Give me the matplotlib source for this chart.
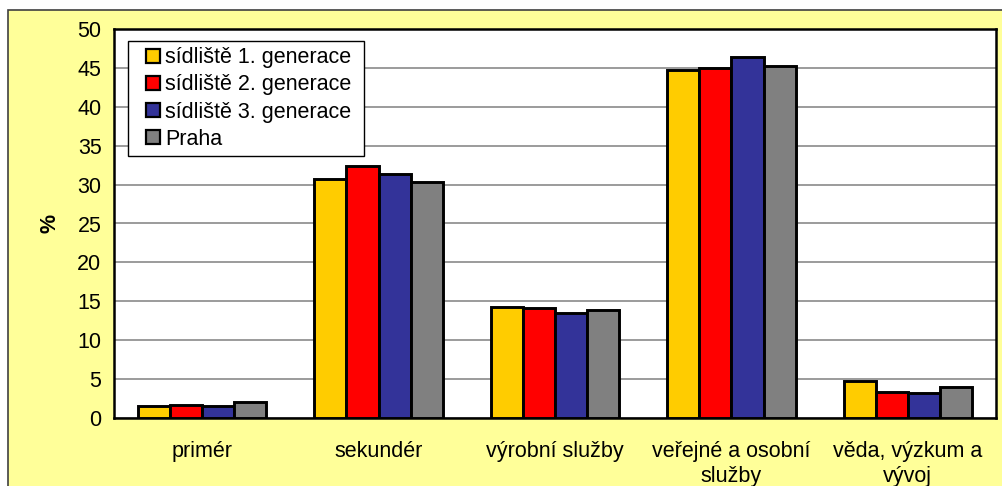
import matplotlib
matplotlib.use("Agg")
import matplotlib.pyplot as plt
import numpy as np
from matplotlib.patches import Rectangle, Patch
from matplotlib.legend_handler import HandlerPatch

plt.rcParams['font.family'] = ['Liberation Sans', 'DejaVu Sans']

categories = ["primér", "sekundér", "výrobní služby",
              "veřejné a osobní\nslužby", "věda, výzkum a\nvývoj"]
series_names = ["sídliště 1. generace", "sídliště 2. generace",
                "sídliště 3. generace", "Praha"]
gen1 = [1.5, 30.7, 14.3, 44.7, 4.8]
gen2 = [1.7, 32.4, 14.1, 45.0, 3.3]
gen3 = [1.5, 31.3, 13.5, 46.4, 3.2]
praha = [2.0, 30.3, 13.9, 45.3, 4.0]
yticks = [0, 5, 10, 15, 20, 25, 30, 35, 40, 45, 50]

colors = ["#FFCC00", "#FF0000", "#333399", "#808080"]
values = [gen1, gen2, gen3, praha]

FS = 15.5
W, H = 1003, 486
fig = plt.figure(figsize=(W / 100, H / 100), dpi=100, facecolor="white")

# chart area background
fig.patches.append(Rectangle((8 / W, -0.1), 1.2, (H - 10) / H + 0.1,
                             transform=fig.transFigure, facecolor="#FFFF99",
                             edgecolor="#404040", linewidth=1.2, zorder=-10))

ax = fig.add_axes([114 / W, (H - 418) / H, (996 - 114) / W, (418 - 29) / H])
ax.set_facecolor("white")
ax.set_zorder(1)

x = np.arange(len(categories))
bw = 0.182
for i, (vals, c) in enumerate(zip(values, colors)):
    ax.bar(x + (i - 1.5) * bw, vals, width=bw, color=c, edgecolor="black",
           linewidth=2.1, zorder=3, label=series_names[i])

ax.set_xlim(-0.5, len(categories) - 0.5)
ax.set_ylim(0, 50)
ax.set_yticks(yticks)
ax.set_yticklabels([str(v) for v in yticks], fontsize=FS)
ax.set_xticks(x)
ax.set_xticklabels(categories, fontsize=FS, linespacing=1.28)
ax.tick_params(axis="both", length=0)
ax.tick_params(axis="y", pad=9)
ax.tick_params(axis="x", pad=16.5)
ax.yaxis.grid(True, color="#808080", linewidth=1.1, zorder=0)
ax.set_axisbelow(True)
for s in ax.spines.values():
    s.set_color("black")
    s.set_linewidth(1.8)

ax.set_ylabel("%", fontsize=FS, fontweight="bold")
ax.yaxis.set_label_coords(-53 / (996 - 114), 0.5)


def square_key(legend, orig_handle, xdescent, ydescent, width, height, fontsize):
    # small square key sitting at the right end of the handle box
    s = height
    return Rectangle((-xdescent + width - s, -ydescent), s, s)


handles = [Patch(facecolor=c, edgecolor="black", linewidth=1.6) for c in colors]
leg = ax.legend(handles, series_names, loc="upper left",
                bbox_to_anchor=(14 / 882, (418 - 41) / 389, (364 - 128) / 882, 0),
                mode="expand", fontsize=FS,
                frameon=True, fancybox=False, framealpha=1, edgecolor="black",
                handlelength=1.19, handleheight=0.62, handletextpad=0.25,
                labelspacing=0.28, borderpad=0.3, borderaxespad=0,
                handler_map={Patch: HandlerPatch(patch_func=square_key)})
leg.get_frame().set_linewidth(1.0)
leg.set_zorder(5)

fig.savefig("out.png", dpi=100, facecolor="white")
